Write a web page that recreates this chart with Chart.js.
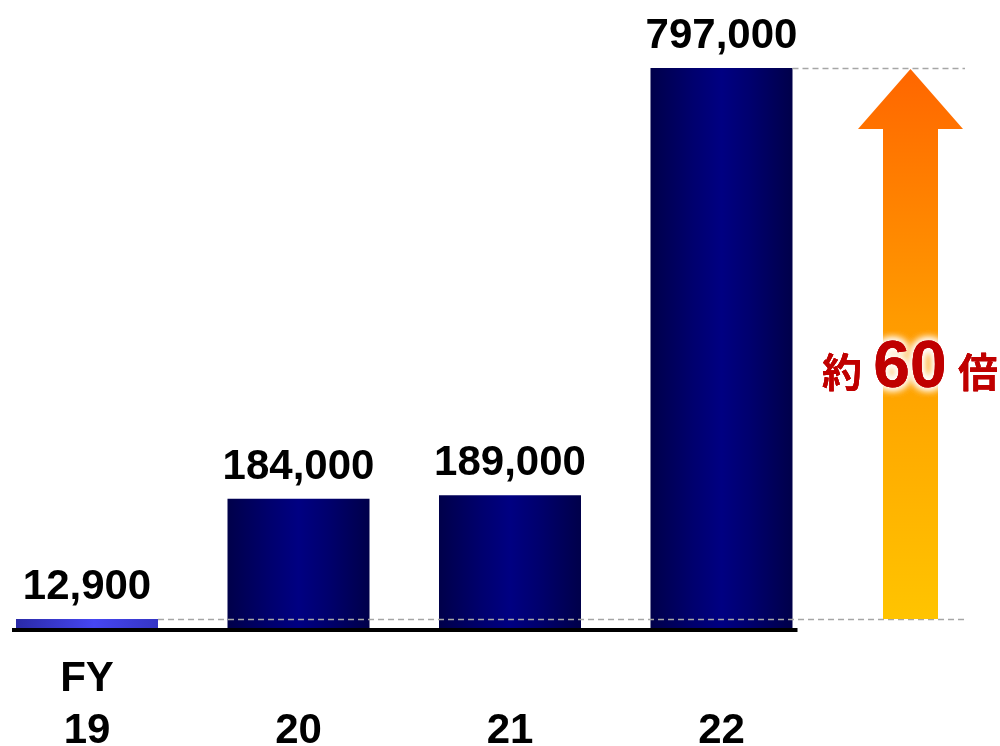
<!DOCTYPE html>
<html>
<head>
<meta charset="utf-8">
<script src="https://cdn.jsdelivr.net/npm/chart.js@4.4.1/dist/chart.umd.min.js"></script>
<style>
html,body{margin:0;padding:0;background:#fff;}
#wrap{width:1000px;height:746px;}
</style>
</head>
<body>
<div id="wrap"><canvas id="c" width="1000" height="746"></canvas></div>
<script>
// ---- data ----
const categories = [["FY", "19"], ["", "20"], ["", "21"], ["", "22"]];
const values = [12900, 184000, 189000, 797000];
const valueLabels = ["12,900", "184,000", "189,000", "797,000"];
const multiplierParts = ["約", "60", "倍"];

const FONT = "'Liberation Sans', Arial, sans-serif";
const CJK = "'Noto Sans CJK JP', sans-serif";

function barGradient(ctx) {
  const chart = ctx.chart;
  const xs = chart.scales.x;
  if (!chart.chartArea || !xs) return '#000080';
  const i = ctx.dataIndex;
  const cx = xs.getPixelForValue(i);
  const step = xs.getPixelForValue(1) - xs.getPixelForValue(0);
  const half = step * 0.6714 / 2;
  const g = chart.ctx.createLinearGradient(cx - half, 0, cx + half, 0);
  if (i === 0) {
    g.addColorStop(0, '#2a2aa6');
    g.addColorStop(0.55, '#4646f2');
    g.addColorStop(1, '#3535c4');
  } else {
    g.addColorStop(0, '#00004a');
    g.addColorStop(0.3, '#00006e');
    g.addColorStop(0.5, '#000082');
    g.addColorStop(0.7, '#00006e');
    g.addColorStop(1, '#00004a');
  }
  return g;
}

const overlay = {
  id: 'overlay',
  afterDatasetsDraw(chart) {
    const ctx = chart.ctx;
    const meta = chart.getDatasetMeta(0);
    const ys = chart.scales.y;
    const y0 = ys.getPixelForValue(0);
    const bars = meta.data;
    ctx.save();

    // dashed reference lines
    const dashEnd = 965;
    ctx.strokeStyle = '#a6a6a6';
    ctx.lineWidth = 1.5;
    ctx.setLineDash([6, 4]);
    const yLow = bars[0].y;
    const yHigh = bars[bars.length - 1].y;
    ctx.beginPath();
    ctx.moveTo(bars[0].x + bars[0].width / 2, yLow + 0.5);
    ctx.lineTo(dashEnd, yLow + 0.5);
    ctx.moveTo(bars[3].x + bars[3].width / 2, yHigh + 0.5);
    ctx.lineTo(dashEnd, yHigh + 0.5);
    ctx.stroke();
    ctx.setLineDash([]);

    // baseline
    ctx.fillStyle = '#000';
    const bx0 = bars[0].x - bars[0].width / 2 - 4;
    const bx1 = bars[3].x + bars[3].width / 2 + 5;
    ctx.fillRect(bx0, y0, bx1 - bx0, 4);

    // value labels
    ctx.fillStyle = '#000';
    ctx.font = 'bold 42px ' + FONT;
    ctx.textAlign = 'center';
    ctx.textBaseline = 'alphabetic';
    bars.forEach((b, i) => {
      ctx.fillText(valueLabels[i], b.x, b.y - 20);
    });

    // arrow
    const ax = 910.5, shaftW = 55, headW = 105, headH = 60;
    const top = yHigh + 1, bottom = yLow;
    const g = ctx.createLinearGradient(0, top, 0, bottom);
    g.addColorStop(0, '#ff6600');
    g.addColorStop(0.45, '#ff9a00');
    g.addColorStop(1, '#ffc400');
    ctx.fillStyle = g;
    ctx.beginPath();
    ctx.moveTo(ax, top);
    ctx.lineTo(ax + headW / 2, top + headH);
    ctx.lineTo(ax + shaftW / 2, top + headH);
    ctx.lineTo(ax + shaftW / 2, bottom);
    ctx.lineTo(ax - shaftW / 2, bottom);
    ctx.lineTo(ax - shaftW / 2, top + headH);
    ctx.lineTo(ax - headW / 2, top + headH);
    ctx.closePath();
    ctx.fill();

    // 約60倍 text with white glow
    const parts = [
      { t: multiplierParts[0], font: 'bold 40px ' + CJK, x: 842 },
      { t: multiplierParts[1], font: 'bold 66px ' + FONT, x: 910 },
      { t: multiplierParts[2], font: 'bold 40px ' + CJK, x: 978 }
    ];
    const base = 387;
    parts.forEach(p => {
      ctx.font = p.font;
      ctx.textAlign = 'center';
      ctx.shadowColor = 'rgba(255,255,255,1)';
      ctx.shadowBlur = 10;
      ctx.fillStyle = '#c00000';
      for (let k = 0; k < 4; k++) ctx.fillText(p.t, p.x, base);
    });
    ctx.shadowBlur = 0;
    parts.forEach(p => {
      ctx.font = p.font;
      ctx.fillStyle = '#c00000';
      ctx.fillText(p.t, p.x, base);
    });
    ctx.restore();
  }
};

new Chart(document.getElementById('c'), {
  type: 'bar',
  data: {
    labels: categories,
    datasets: [{
      data: values,
      backgroundColor: barGradient,
      borderWidth: 0,
      categoryPercentage: 1,
      barPercentage: 0.6714,
      clip: false
    }]
  },
  options: {
    responsive: false,
    animation: false,
    events: [],
    layout: { padding: { left: 87, right: 278.5, top: 68, bottom: 0 } },
    plugins: { legend: { display: false }, tooltip: { enabled: false } },
    scales: {
      x: {
        type: 'category',
        offset: false,
        grid: { display: false, drawTicks: false },
        border: { display: false },
        ticks: {
          color: '#000',
          font: { family: FONT, size: 42, weight: 'bold', lineHeight: 1.24 },
          padding: 25,
          maxRotation: 0,
          autoSkip: false
        },
        afterFit(s) { s.height = 118; }
      },
      y: {
        display: false,
        min: 0,
        max: 797000
      }
    }
  },
  plugins: [overlay]
});
</script>
</body>
</html>
